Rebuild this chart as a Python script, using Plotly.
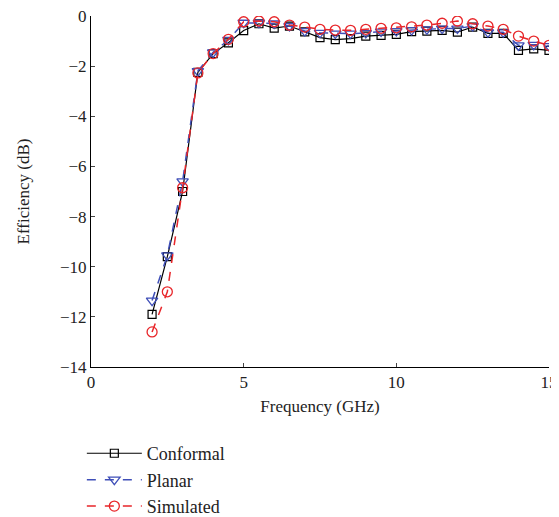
import plotly.graph_objects as go

freq = [2, 2.5, 3, 3.5, 4, 4.5, 5, 5.5, 6, 6.5, 7, 7.5, 8, 8.5, 9, 9.5, 10,
        10.5, 11, 11.5, 12, 12.5, 13, 13.5, 14, 14.5, 15]

conformal = [-11.9, -9.6, -7.0, -2.25, -1.5, -1.07, -0.58, -0.31, -0.48, -0.4,
             -0.63, -0.86, -0.94, -0.9, -0.8, -0.77, -0.73, -0.62, -0.6, -0.57,
             -0.64, -0.44, -0.69, -0.69, -1.37, -1.31, -1.37]

planar = [-11.35, -9.55, -6.6, -2.2, -1.45, -0.95, -0.27, -0.27, -0.3, -0.4,
          -0.6, -0.67, -0.7, -0.7, -0.68, -0.62, -0.6, -0.56, -0.53, -0.5,
          -0.5, -0.4, -0.65, -0.65, -1.17, -1.15, -1.2]

simulated = [-12.6, -11.0, -6.85, -2.27, -1.5, -0.93, -0.23, -0.2, -0.23, -0.36,
             -0.44, -0.53, -0.56, -0.57, -0.53, -0.49, -0.47, -0.43, -0.36, -0.29,
             -0.2, -0.31, -0.4, -0.53, -0.8, -1.0, -1.17]

x_ticks = [0, 5, 10, 15]
y_ticks = [0, -2, -4, -6, -8, -10, -12, -14]
y_tick_text = ["0", "−2", "−4", "−6", "−8", "−10", "−12", "−14"]

font_family = "Liberation Serif"

fig = go.Figure()
fig.add_trace(go.Scatter(
    x=freq, y=conformal, name="Conformal", mode="lines+markers",
    line=dict(color="black", width=1.2),
    marker=dict(symbol="square-open", size=8, color="black", line=dict(width=1.2)),
))
fig.add_trace(go.Scatter(
    x=freq, y=planar, name="Planar", mode="lines+markers",
    line=dict(color="#3f4fb8", width=1.5, dash="dash"),
    marker=dict(symbol="triangle-down-open", size=10, color="#3f4fb8", line=dict(width=1.3)),
))
fig.add_trace(go.Scatter(
    x=freq, y=simulated, name="Simulated", mode="lines+markers",
    line=dict(color="#e8262a", width=1.5, dash="dash"),
    marker=dict(symbol="circle-open", size=10, color="#e8262a", line=dict(width=1.3)),
))

# page body adds an 8px offset; figure made wider so the "15" label is not clipped
fig.update_layout(
    width=567, height=509,
    margin=dict(l=83, r=26, t=8, b=150),
    plot_bgcolor="white", paper_bgcolor="white",
    font=dict(family=font_family, size=17, color="#222"),
    showlegend=True,
    legend=dict(
        x=-0.02, y=0.161, xref="paper", yref="container",
        xanchor="left", yanchor="top",
        font=dict(family=font_family, size=18, color="#222"),
        bgcolor="rgba(0,0,0,0)", tracegroupgap=0, itemwidth=55,
    ),
)
fig.update_xaxes(
    range=[0, 15], tickvals=x_ticks, ticks="inside", ticklen=4,
    showline=True, linecolor="black", linewidth=1, mirror=False,
    showgrid=False, zeroline=False, automargin=False,
    ticklabeloverflow="allow",
    title=dict(text="Frequency (GHz)", standoff=8, font=dict(size=17)),
    tickfont=dict(size=17),
)
fig.update_yaxes(
    range=[-14, 0], tickvals=y_ticks, ticktext=y_tick_text,
    ticks="inside", ticklen=4,
    showline=True, linecolor="black", linewidth=1, mirror=False,
    showgrid=False, zeroline=False, automargin=False,
    ticklabeloverflow="allow",
    title=dict(text="Efficiency (dB)", standoff=26, font=dict(size=17)),
    tickfont=dict(size=17),
)

fig.write_html("out.html")
